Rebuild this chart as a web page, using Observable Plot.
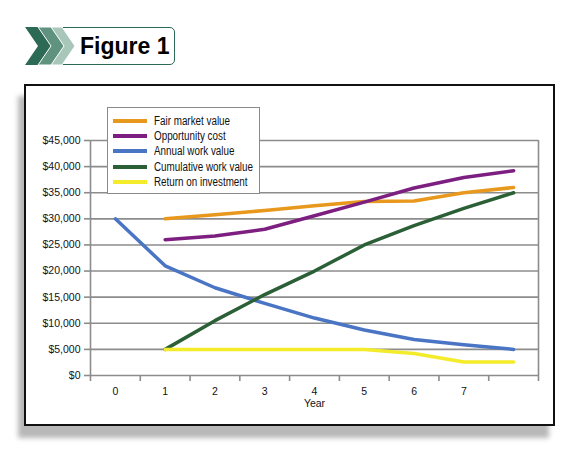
<!DOCTYPE html>
<html>
<head>
<meta charset="utf-8">
<script src="https://cdn.jsdelivr.net/npm/d3@7"></script>
<script src="https://cdn.jsdelivr.net/npm/@observablehq/plot@0.6"></script>
<style>
  html, body { margin: 0; padding: 0; background: #fff; }
  body { width: 575px; height: 459px; position: relative; overflow: hidden;
         font-family: "Liberation Sans", Arial, sans-serif; }
  #badge { position: absolute; left: 0; top: 0; }
  #badge-box { position: absolute; left: 62px; top: 27px; width: 113px; height: 38px;
               box-sizing: border-box; border: 1.5px solid #2c6a55; border-radius: 0 5px 5px 0; background: #fff; }
  #badge-text { position: absolute; left: 80px; top: 30px; font-family: "Liberation Sans", Arial, sans-serif;
                font-weight: bold; font-size: 23px; line-height: 32px; color: #000; }
  #frame { position: absolute; left: 24px; top: 84px; width: 531px; height: 342px; box-sizing: border-box;
           border: 2px solid #111; background: #fff; box-shadow: -6px 12px 5px #b8b8b8; }
  #chart { position: absolute; left: 0; top: 0; }
  #legend { position: absolute; left: 107px; top: 107px; width: 153px; height: 87px; box-sizing: border-box;
            border: 1px solid #8a8a8a; background: #fff; padding-top: 5px; }
  .item { display: flex; align-items: center; height: 15.4px; font-size: 12px; color: #111; white-space: nowrap; }
  .swatch { width: 34px; height: 4px; margin-left: 5px; margin-right: 7px; flex: none; }
  .item span { display: inline-block; transform: scaleX(0.82); transform-origin: left center; }
</style>
</head>
<body>
<div id="frame"></div>
<div id="badge-box"></div>
<svg id="badge" width="120" height="80">
  <polygon points="25,27 40,27 53,46 40,65 25,65 38,46" fill="#2c6a55"/>
  <polygon points="38,27 52,27 65,46 52,65 38,65 51,46" fill="#5f927f" stroke="#fff" stroke-width="1"/>
  <polygon points="51,27 62,27 75,46 62,65 51,65 64,46" fill="#a9c6ba" stroke="#fff" stroke-width="1"/>
</svg>
<div id="badge-text">Figure 1</div>
<div id="chart"></div>
<div id="legend"></div>
<script>
// Years on the category axis; the last year carries no label.
const years = [0, 1, 2, 3, 4, 5, 6, 7, 8];
const yearLabels = ["0", "1", "2", "3", "4", "5", "6", "7", ""];
const yTicks = [0, 5000, 10000, 15000, 20000, 25000, 30000, 35000, 40000, 45000];

// Series values by year (null = no value that year)
const seriesNames = ["Fair market value", "Opportunity cost", "Annual work value", "Cumulative work value", "Return on investment"];
const seriesColors = ["#e8981c", "#7d1f80", "#4a74c4", "#2b5f36", "#f4ec2a"];
const fairMarketValue     = [null, 30000, 30800, 31600, 32500, 33300, 33400, 35000, 36000];
const opportunityCost     = [null, 26000, 26700, 28000, 30600, 33200, 35900, 37900, 39200];
const annualWorkValue     = [30000, 21000, 16800, 13800, 11000, 8700, 6900, 5900, 5000];
const cumulativeWorkValue = [null, 5000, 10500, 15500, 20000, 25000, 28700, 32000, 35000];
const returnOnInvestment  = [null, 5000, 5000, 5000, 5000, 5000, 4200, 2600, 2600];

const seriesValues = [fairMarketValue, opportunityCost, annualWorkValue, cumulativeWorkValue, returnOnInvestment];
const rows = seriesNames.flatMap((name, s) =>
  years.map((year, i) => ({series: name, year, value: seriesValues[s][i]})).filter(d => d.value != null)
);

const gray = "#8c8c8c";
const money = d => "$" + d3.format(",")(d);

const chart = Plot.plot({
  width: 575,
  height: 459,
  marginLeft: 90,
  marginRight: 37,
  marginTop: 140,
  marginBottom: 84,
  style: {background: "transparent", fontFamily: "'Liberation Sans', Arial, sans-serif", fontSize: "10.5px", color: "#111"},
  x: {domain: [-0.5, 8.5]},
  y: {domain: [0, 45000]},
  color: {domain: seriesNames, range: seriesColors},
  marks: [
    Plot.gridY(yTicks, {stroke: gray, strokeOpacity: 1, strokeWidth: 1.6}),
    Plot.ruleX([-0.5, 8.5], {stroke: gray, strokeWidth: 1.6}),
    Plot.axisY(yTicks, {tickSize: 6, tickPadding: 4, stroke: gray, strokeWidth: 1.6, tickFormat: money, label: null}),
    Plot.axisX(d3.range(-0.5, 9, 1), {tickSize: 6, stroke: gray, strokeWidth: 1.6, tickFormat: () => "", label: null}),
    Plot.axisX(years, {tickSize: 0, tickPadding: 12, tickFormat: i => yearLabels[i], label: null}),
    Plot.text(["Year"], {frameAnchor: "bottom", lineAnchor: "middle", dy: 28, fontSize: 10.5, fill: "#111"}),
    Plot.line(rows, {x: "year", y: "value", z: "series", stroke: "series", strokeWidth: 3.5, strokeLinejoin: "round"})
  ]
});
document.getElementById("chart").appendChild(chart);

// Legend box listing each series with its line colour
const legend = d3.select("#legend");
seriesNames.forEach((name, i) => {
  const item = legend.append("div").attr("class", "item");
  item.append("div").attr("class", "swatch").style("background", seriesColors[i]);
  item.append("span").text(name);
});
</script>
</body>
</html>
